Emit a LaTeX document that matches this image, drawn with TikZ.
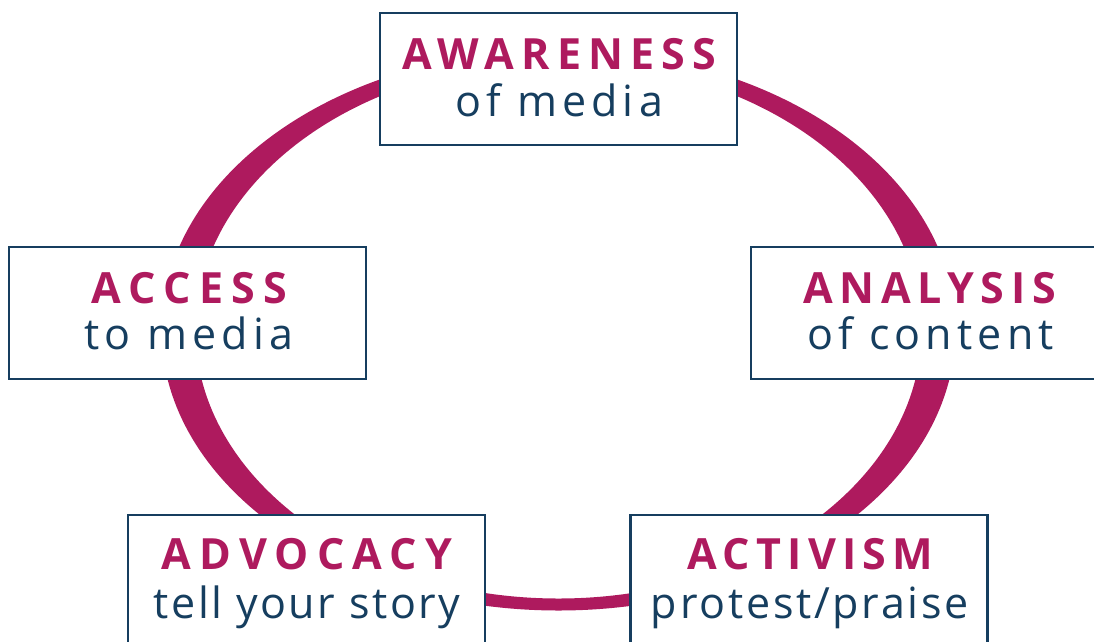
\documentclass[tikz,border=0pt]{standalone}
\usepackage{fontspec}
\setmainfont{Open Sans}
\definecolor{ringred}{RGB}{174,26,94}
\definecolor{navy}{RGB}{22,62,95}
\begin{document}
\begin{tikzpicture}[x=1pt,y=-1pt,
  stagebox/.style={draw=navy, line width=2.5pt, fill=white, minimum width=357pt, minimum height=132pt, inner sep=0pt},
  headtext/.style={anchor=base, text=ringred, inner sep=0pt, font=\fontsize{43}{50}\selectfont\bfseries\addfontfeatures{LetterSpace=#1}},
  headtext/.default=17,
  subtext/.style={anchor=base, text=navy, inner sep=0pt, font=\fontsize{43}{50}\selectfont\addfontfeatures{LetterSpace=#1}},
  subtext/.default=12]
\useasboundingbox (0,0) rectangle (1094,641);
% ring
\fill[ringred, even odd rule] (558.5,330) ellipse [x radius=397, y radius=280.5]
                              (558.5,330) ellipse [x radius=363, y radius=268.5];
% boxes
\node[stagebox] (aware) at (558.5,79) {};
\node[stagebox] (access) at (187.5,313) {};
\node[stagebox] (analysis) at (929.5,313) {};
\node[stagebox] (advocacy) at (306.5,581) {};
\node[stagebox] (activism) at (809,581) {};
% texts
\node[headtext=16.7] (awareT) at (559.5,69) {AWARENESS};
\node[subtext=12] (awareS) at (559,116) {of media};
\node[headtext=19.3] (accessT) at (189.5,303) {ACCESS};
\node[subtext=12.3] (accessS) at (189,349) {to media};
\node[headtext=15.6] (analysisT) at (929.5,303) {ANALYSIS};
\node[subtext=12] (analysisS) at (930.5,349) {of content};
\node[headtext=19] (advocacyT) at (307,569) {ADVOCACY};
\node[subtext=6] (advocacyS) at (307,618) {tell your story};
\node[headtext=14.4] (activismT) at (810.5,569) {ACTIVISM};
\node[subtext=6.4] (activismS) at (810,618) {protest/praise};
\end{tikzpicture}
\end{document}
